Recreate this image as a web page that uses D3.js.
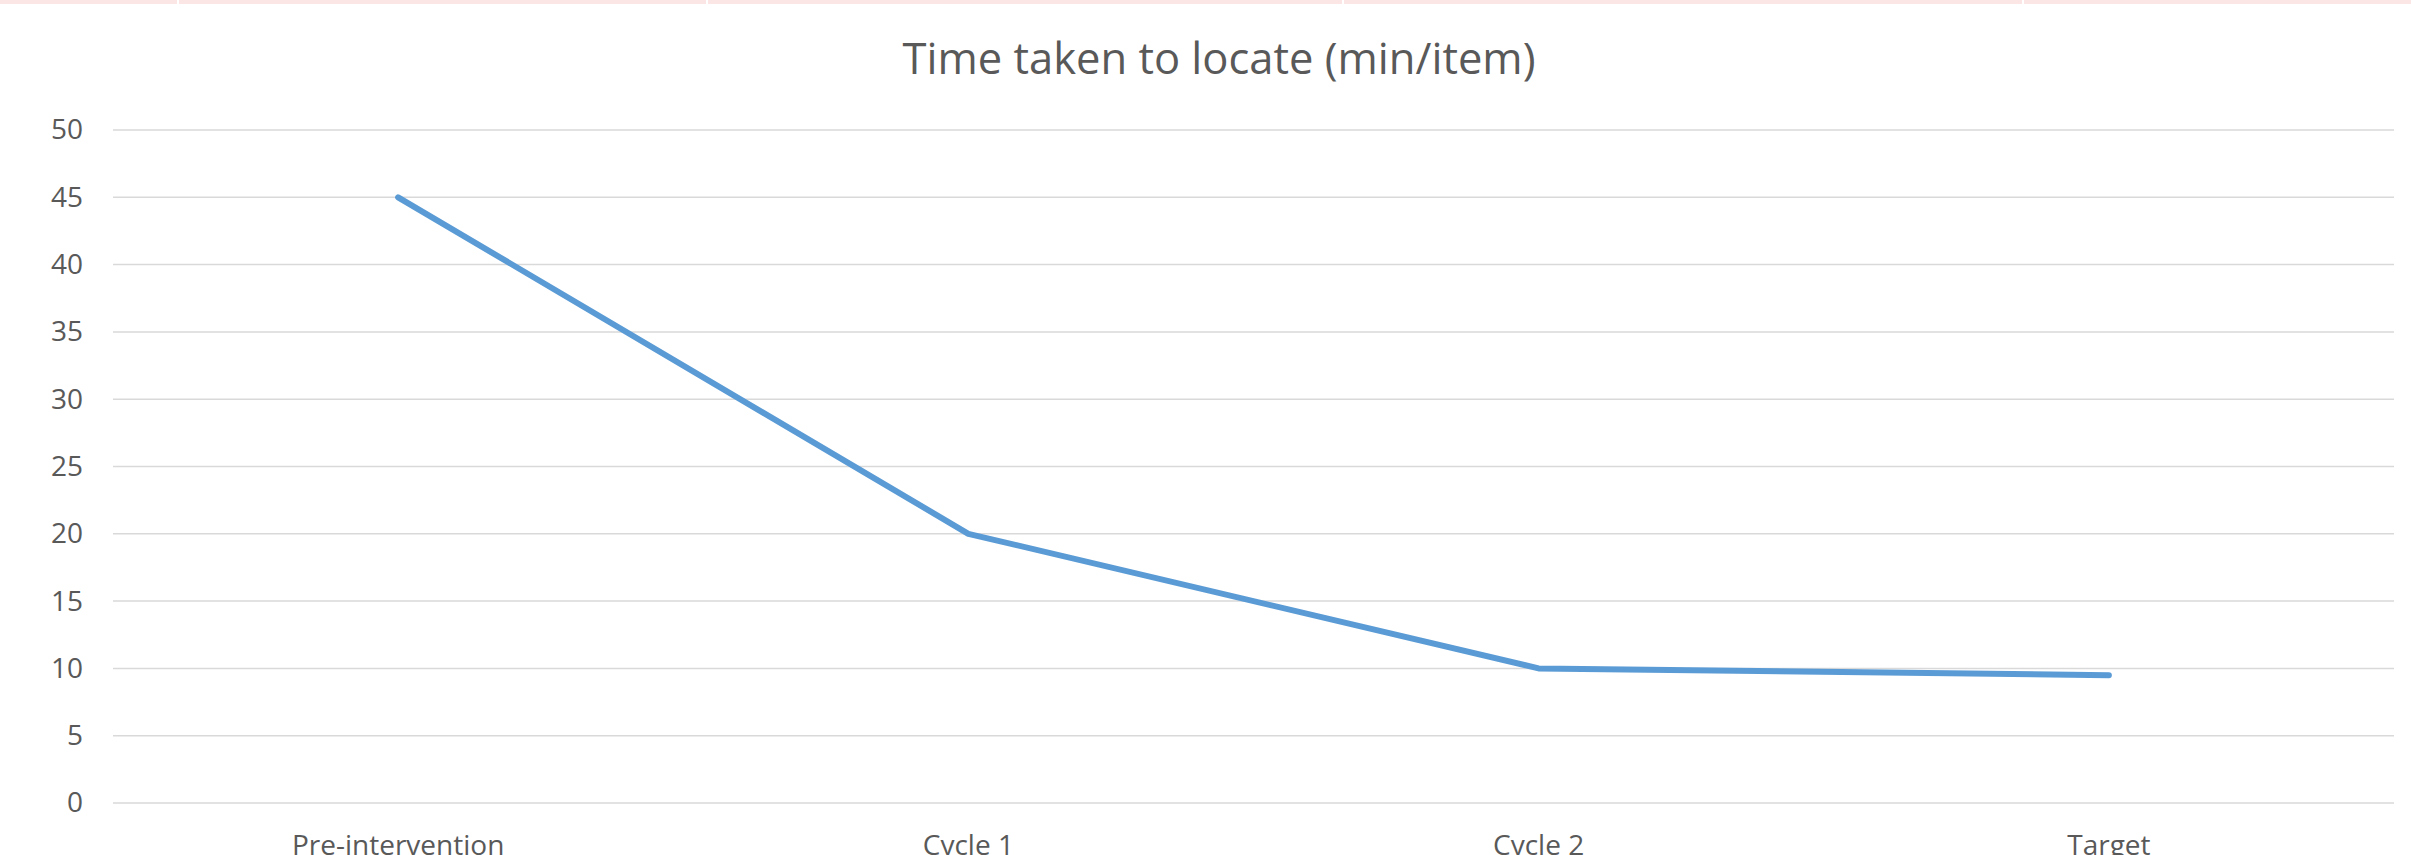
<html><head>
<meta charset="utf-8">
<title>Time taken to locate</title>
<script src="https://d3js.org/d3.v7.min.js"></script>
<style>
  body { margin: 0; background: #fff; }
  svg { display: block; }
</style>
</head>
<body>
<div id="chart"></div>
<script>

// data
var categories = ["Pre-intervention", "Cycle 1", "Cycle 2", "Target"];
var minutes = [45, 20, 10, 9.5];
var yTicks = [0, 5, 10, 15, 20, 25, 30, 35, 40, 45, 50];
var chartTitle = "Time taken to locate (min/item)";

var W = 2411, H = 855;
var margin = {top: 130, right: 17, bottom: 52, left: 113};
var width = W - margin.left - margin.right;
var height = H - margin.top - margin.bottom;
var font = "'Open Sans', Calibri, sans-serif";

var svg = d3.select("#chart").append("svg")
    .attr("width", W)
    .attr("height", H);

// pinkish strip at the very top (table cells above the chart)
var stripCuts = [0, 177, 706, 1342, 2022, W];
for (var i = 0; i < stripCuts.length - 1; i++) {
  svg.append("rect")
    .attr("x", stripCuts[i] + (i ? 2 : 0))
    .attr("y", 0)
    .attr("width", stripCuts[i + 1] - stripCuts[i] - (i ? 2 : 0))
    .attr("height", 4)
    .attr("fill", "#fbe5e5");
}

var g = svg.append("g")
    .attr("transform", "translate(" + margin.left + "," + margin.top + ")");

var x = d3.scaleBand()
    .domain(categories)
    .range([0, width]);

var y = d3.scaleLinear()
    .domain([0, 50])
    .range([height, 0]);

// gridlines
g.append("g")
  .selectAll("line")
  .data(yTicks)
  .join("line")
    .attr("x1", 0)
    .attr("x2", width)
    .attr("y1", function(d) { return y(d); })
    .attr("y2", function(d) { return y(d); })
    .attr("stroke", "#d9d9d9")
    .attr("stroke-width", 1.5);

// y axis labels
var yAxis = d3.axisLeft(y).tickValues(yTicks).tickSize(0).tickPadding(30);
g.append("g")
    .call(yAxis)
    .call(function(s) { s.select(".domain").remove(); })
    .selectAll("text")
    .attr("fill", "#595959")
    .style("font-family", font)
    .style("font-size", "28px");

// x axis labels
var xAxis = d3.axisBottom(x).tickSize(0).tickPadding(32);
g.append("g")
    .attr("transform", "translate(0," + height + ")")
    .call(xAxis)
    .call(function(s) { s.select(".domain").remove(); })
    .selectAll("text")
    .attr("fill", "#595959")
    .style("font-family", font)
    .style("font-size", "28px");

// the line
var line = d3.line()
    .x(function(d, i) { return x(categories[i]) + x.bandwidth() / 2; })
    .y(function(d) { return y(d); });

g.append("path")
    .datum(minutes)
    .attr("fill", "none")
    .attr("stroke", "#5b9bd5")
    .attr("stroke-width", 6)
    .attr("stroke-linecap", "round")
    .attr("stroke-linejoin", "round")
    .attr("d", line);

// title
svg.append("text")
    .attr("x", 1219)
    .attr("y", 74)
    .attr("text-anchor", "middle")
    .attr("fill", "#595959")
    .style("font-family", font)
    .style("font-size", "43.5px")
    .text(chartTitle);

</script>
</body></html>
